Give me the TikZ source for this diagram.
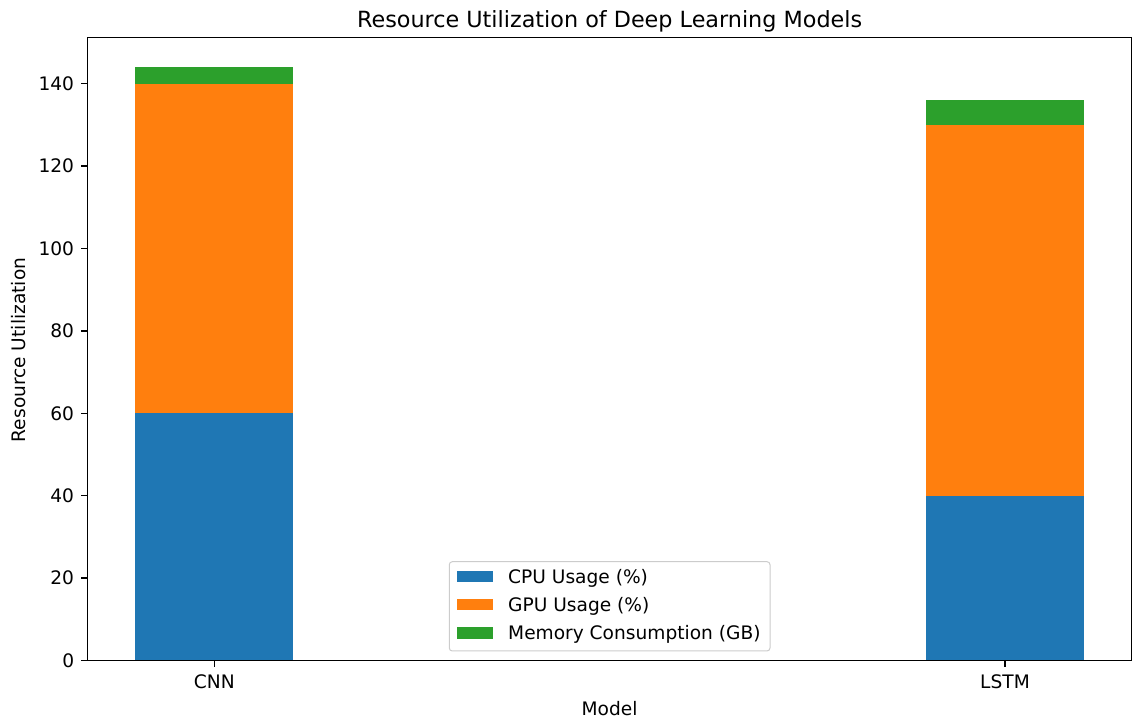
\documentclass[tikz,border=0pt]{standalone}
\usepackage{fontspec}
\setmainfont{DejaVu Sans}
\definecolor{cpu}{HTML}{1F77B4}
\definecolor{gpu}{HTML}{FF7F0E}
\definecolor{mem}{HTML}{2CA02C}
\definecolor{legframe}{HTML}{CCCCCC}
\begin{document}
\begin{tikzpicture}[x=1pt,y=1pt,
  lbl/.style={font=\fontsize{18.6}{22}\selectfont, inner sep=0pt, text=black},
  ttl/.style={font=\fontsize{22.3}{26}\selectfont, inner sep=0pt, text=black},
  spine/.style={draw=black, line width=1.3pt},
  tickmark/.style={draw=black, line width=1.3pt},
  legpatch/.style={inner sep=0pt, minimum width=36.6pt, minimum height=11.6pt}
]
\useasboundingbox (0,0) rectangle (1133,719);

% stacked bars, in data units (x = model index, y = utilization)
\begin{scope}[shift={(214.3,58.5)}, x=790.7pt, y=4.1204pt]
  % CNN
  \fill[cpu] (-0.1,0)   rectangle (0.1,60);
  \fill[gpu] (-0.1,60)  rectangle (0.1,140);
  \fill[mem] (-0.1,140) rectangle (0.1,144);
  % LSTM
  \fill[cpu] (0.9,0)    rectangle (1.1,40);
  \fill[gpu] (0.9,40)   rectangle (1.1,130);
  \fill[mem] (0.9,130)  rectangle (1.1,136);

  % y ticks and labels
  \foreach \v in {0,20,...,140} {
    \coordinate (ya\v) at (-0.16,\v);
    \draw[tickmark] (ya\v) -- ++(-7pt,0) coordinate (yb\v);
    \node[lbl, anchor=east] (yt\v) at ([xshift=-6.5pt]yb\v) {\v};
  }
  % x ticks
  \coordinate (xa0) at (0,0);
  \coordinate (xa1) at (1,0);
  \draw[tickmark] (xa0) -- ++(0,-7pt);
  \draw[tickmark] (xa1) -- ++(0,-7pt);
\end{scope}

% axes frame
\draw[spine] (87.8,58.5) rectangle (1131.5,681.5);

% x tick labels
\node[lbl, anchor=base] (cnn)  at (214.3,30) {CNN};
\node[lbl, anchor=base] (lstm) at (1005,30)  {LSTM};

% axis labels and title
\node[lbl, anchor=base] (xlab) at (609.6,3.3) {Model};
\node[lbl, anchor=base, rotate=90] (ylab) at (25,369) {Resource Utilization};
\node[ttl, anchor=base] (title) at (609.6,691.5) {Resource Utilization of Deep Learning Models};

% legend
\draw[legframe, line width=1pt, fill=white, fill opacity=0.8, rounded corners=3pt]
  (449.3,68) rectangle (770,157.3);
\node[legpatch, fill=cpu] (kcpu) at (475,142.5) {};
\node[legpatch, fill=gpu] (kgpu) at (475,114.4) {};
\node[legpatch, fill=mem] (kmem) at (475,86.2)  {};
\node[lbl, anchor=base west] (lcpu) at (508,135.7) {CPU Usage (\%)};
\node[lbl, anchor=base west] (lgpu) at (508,107.5) {GPU Usage (\%)};
\node[lbl, anchor=base west] (lmem) at (508,79.3)  {Memory Consumption (GB)};
\end{tikzpicture}
\end{document}
